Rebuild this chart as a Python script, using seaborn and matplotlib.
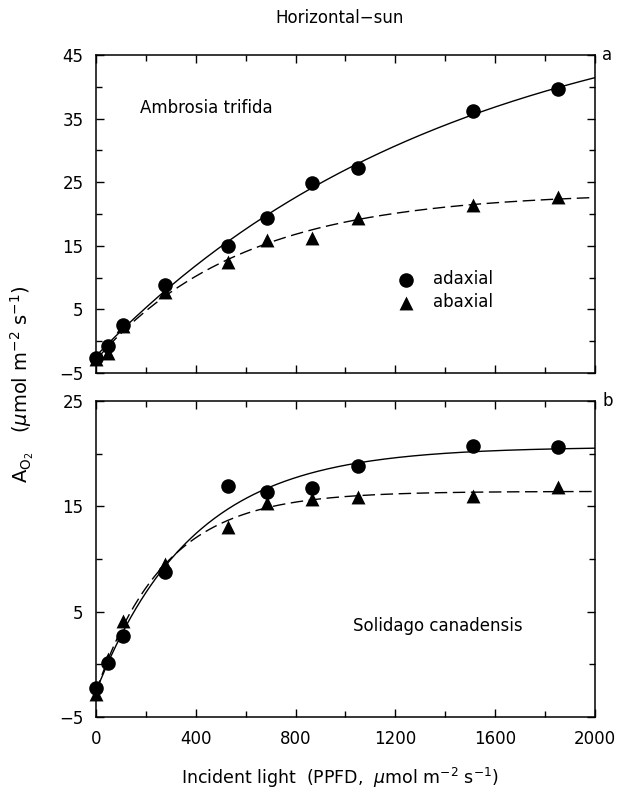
import numpy as np
import pandas as pd
import seaborn as sns
import matplotlib.pyplot as plt
from matplotlib.ticker import MultipleLocator

# Data
light = [0, 50, 110, 275, 530, 685, 865, 1050, 1510, 1850]
ambrosia_adaxial = [-2.6, -0.8, 2.5, 8.8, 15.0, 19.4, 24.8, 27.3, 36.2, 39.6]
ambrosia_abaxial = [-2.8, -1.9, 2.4, 7.7, 12.5, 15.9, 16.3, 19.4, 21.4, 22.7]
solidago_adaxial = [-2.2, 0.1, 2.7, 8.8, 16.9, 16.4, 16.7, 18.8, 20.7, 20.6]
solidago_abaxial = [-2.8, 0.5, 4.1, 9.5, 13.0, 15.3, 15.7, 15.9, 16.0, 16.8]

sns.set_style("ticks")
plt.rcParams['font.family'] = ['DejaVu Sans']
plt.rcParams['mathtext.fontset'] = 'dejavusans'
for key in ['text.color', 'axes.labelcolor', 'xtick.color', 'ytick.color',
            'axes.edgecolor']:
    plt.rcParams[key] = 'black'


def fit_curve(x, y):
    # light response: y = a + b * (1 - exp(-k x)), least squares over k
    x = np.asarray(x, float)
    y = np.asarray(y, float)
    best = None
    for k in np.logspace(-4.5, -1.5, 600):
        A = np.column_stack([np.ones_like(x), 1 - np.exp(-k * x)])
        coef, *_ = np.linalg.lstsq(A, y, rcond=None)
        sse = np.sum((A @ coef - y) ** 2)
        if best is None or sse < best[0]:
            best = (sse, k, coef)
    _, k, (a, b) = best
    xs = np.linspace(0, 2000, 300)
    return pd.DataFrame({'x': xs, 'y': a + b * (1 - np.exp(-k * xs))})


fig = plt.figure(figsize=(6.18, 8), dpi=100)
ax1 = fig.add_axes([0.1553, 0.53375, 0.8074, 0.3975])
ax2 = fig.add_axes([0.1553, 0.10375, 0.8074, 0.395])

panels = [
    (ax1, ambrosia_adaxial, ambrosia_abaxial, (-5, 45), 'a'),
    (ax2, solidago_adaxial, solidago_abaxial, (-5, 25), 'b'),
]

for ax, ad, ab, ylim, tag in panels:
    c1 = fit_curve(light, ad)
    c2 = fit_curve(light, ab)
    sns.lineplot(data=c1, x='x', y='y', ax=ax, color='black', lw=1.0)
    sns.lineplot(data=c2, x='x', y='y', ax=ax, color='black', lw=1.0,
                 dashes=False, linestyle=(0, (9, 4)))
    sns.scatterplot(x=light, y=ad, ax=ax, color='black', marker='o', s=110,
                    edgecolor='black', linewidth=0, zorder=5, clip_on=False,
                    label='adaxial')
    sns.scatterplot(x=light, y=ab, ax=ax, color='black', marker='^', s=100,
                    edgecolor='black', linewidth=0, zorder=4, clip_on=False,
                    label='abaxial')
    ax.set_xlim(0, 2000)
    ax.set_ylim(*ylim)
    ax.xaxis.set_major_locator(MultipleLocator(400))
    ax.xaxis.set_minor_locator(MultipleLocator(200))
    ax.yaxis.set_minor_locator(MultipleLocator(5))
    ax.set_yticks(np.arange(ylim[0], ylim[1] + 1, 10))
    ax.tick_params(which='both', direction='in', top=True, right=True,
                   labelsize=12, width=1.0, colors='black')
    ax.tick_params(which='major', length=6, pad=9)
    ax.tick_params(which='minor', length=4)
    ax.set_xlabel('')
    ax.set_ylabel('')
    for sp in ax.spines.values():
        sp.set_linewidth(1.1)
        sp.set_visible(True)
        sp.set_color('black')
    ax.text(1.025, 1.0, tag, transform=ax.transAxes, fontsize=12,
            ha='center', va='center')
    ax.get_legend().remove()

ax1.tick_params(labelbottom=False)
ax1.text(176, 36.7, 'Ambrosia trifida', fontsize=12, va='center')
ax2.text(1030, 3.6, 'Solidago canadensis', fontsize=12, va='center')
ax1.legend(loc='upper left', bbox_to_anchor=(0.571, 0.37), frameon=False,
           fontsize=12, handletextpad=1.0, labelspacing=0.3,
           handlelength=1.2, markerscale=1.0)

fig.text(0.55, 0.978, 'Horizontal\u2212sun', ha='center', va='center',
         fontsize=12)
fig.text(0.55, 0.027,
         r'Incident light  (PPFD,  $\mu$mol m$^{-2}$ s$^{-1}$)',
         ha='center', va='center', fontsize=12.5)
fig.text(0.036, 0.52,
         r'A$_{\mathrm{O}_2}$   ($\mu$mol m$^{-2}$ s$^{-1}$)',
         ha='center', va='center', rotation=90, fontsize=14)

fig.savefig('out.png', dpi=100)
